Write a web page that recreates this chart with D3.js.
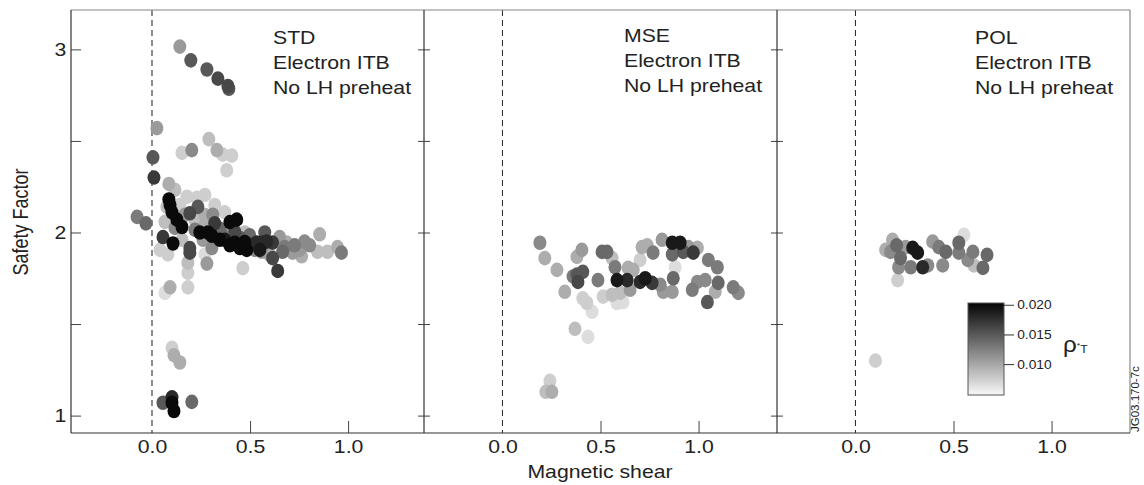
<!DOCTYPE html>
<html>
<head>
<meta charset="utf-8">
<script src="https://cdn.jsdelivr.net/npm/d3@7"></script>
<style>
body { margin: 0; background: #fff; }
svg { font-family: "Liberation Sans", Arial, sans-serif; }
</style>
</head>
<body>
<div id="chart"></div>
<script>
// STD panel
const stdShear = [0.142,0.198,0.280,0.336,0.387,0.392,0.025,0.005,0.010,0.153,
  0.203,0.290,0.331,0.361,0.407,0.381,-0.076,-0.031,0.086,0.178,
  0.229,0.076,0.270,0.320,0.142,0.234,0.193,0.086,0.092,0.102,
  0.127,0.153,0.056,0.107,0.193,0.244,0.285,0.320,0.397,0.432,
  0.346,0.397,0.463,0.483,0.448,0.498,0.534,0.565,0.585,0.615,
  0.575,0.651,0.666,0.615,0.641,0.727,0.717,0.778,0.804,0.855,
  0.844,0.895,0.946,0.966,0.763,0.463,0.081,0.193,0.183,0.183,
  0.183,0.092,0.066,0.280,0.270,0.102,0.112,0.142,0.056,0.102,
  0.102,0.112,0.203,0.219,0.270,0.371,0.397,0.473,0.305,0.153,
  0.524,0.560,0.687,0.117,0.346,0.448,
  0.117,0.168,0.219,0.270,0.310,0.356,0.422,0.509,0.550,0.473,
  0.422,0.371,0.305,0.260,0.066,0.041,0.753,0.676,0.600];
const stdQ = [3.015,2.94,2.89,2.84,2.80,2.785,2.57,2.41,2.30,2.435,
  2.45,2.51,2.45,2.425,2.42,2.34,2.085,2.05,2.265,2.195,
  2.19,2.14,2.205,2.15,2.15,2.14,2.105,2.18,2.15,2.11,
  2.07,2.03,1.975,1.94,1.915,2.00,2.00,2.05,2.057,2.07,
  1.96,1.93,1.92,1.905,1.915,1.985,1.945,1.945,1.95,1.945,
  2.00,1.975,1.895,1.86,1.79,1.93,1.89,1.95,1.93,1.99,
  1.895,1.895,1.92,1.89,1.87,1.805,1.88,1.89,1.835,1.78,
  1.70,1.70,1.67,1.83,1.88,1.37,1.33,1.29,1.07,1.10,
  1.07,1.025,1.075,2.07,2.095,2.11,2.01,2.00,1.915,1.96,
  1.905,1.895,1.945,2.025,2.02,1.97,
  2.233,2.097,2.015,2.042,2.097,1.987,2.004,1.933,1.905,1.948,
  1.944,1.96,1.982,1.96,2.058,1.905,1.905,1.92,1.878];
const stdRho = [0.0108,0.015,0.015,0.016,0.016,0.015,0.0108,0.015,0.017,0.0075,
  0.0118,0.0085,0.0096,0.0075,0.0075,0.0075,0.0128,0.0139,0.0096,0.0075,
  0.0075,0.0085,0.0075,0.0075,0.0075,0.015,0.016,0.020,0.020,0.020,
  0.020,0.020,0.017,0.020,0.016,0.020,0.020,0.017,0.020,0.020,
  0.020,0.020,0.020,0.020,0.020,0.0139,0.018,0.018,0.018,0.017,
  0.015,0.0108,0.0139,0.016,0.017,0.0128,0.0108,0.0118,0.0118,0.0096,
  0.0085,0.0085,0.0096,0.0128,0.0096,0.0075,0.0075,0.016,0.0085,0.0075,
  0.0075,0.0096,0.0065,0.0108,0.0065,0.0075,0.0096,0.0096,0.015,0.018,
  0.020,0.020,0.0139,0.0085,0.0096,0.0075,0.0108,0.0085,0.0118,0.0085,
  0.0118,0.0108,0.0096,0.0118,0.0139,0.015,
  0.0085,0.0108,0.0128,0.0096,0.0118,0.0139,0.016,0.017,0.019,0.020,
  0.020,0.019,0.020,0.0108,0.0085,0.0075,0.0108,0.0128,0.0096];

// MSE panel
const mseShear = [0.191,0.216,0.278,0.318,0.370,0.436,0.242,0.221,0.252,0.380,
  0.405,0.380,0.410,0.385,0.360,0.410,0.431,0.457,0.487,0.508,
  0.533,0.559,0.574,0.584,0.636,0.641,0.667,0.513,0.559,0.584,
  0.615,0.600,0.651,0.702,0.728,0.763,0.702,0.712,0.738,0.768,
  0.804,0.820,0.866,0.871,0.814,0.866,0.906,0.881,0.866,0.922,
  0.948,0.973,0.994,0.968,0.994,1.034,1.045,1.050,1.096,1.085,
  1.100,1.177,1.203];
const mseQ = [1.944,1.86,1.796,1.676,1.474,1.43,1.19,1.13,1.13,1.867,
  1.905,1.77,1.785,1.73,1.76,1.64,1.615,1.567,1.74,1.894,
  1.894,1.86,1.81,1.74,1.74,1.807,1.796,1.65,1.66,1.615,
  1.62,1.67,1.687,1.73,1.75,1.725,1.85,1.92,1.93,1.89,
  1.715,1.676,1.676,1.75,1.96,1.944,1.944,1.81,1.88,1.894,
  1.92,1.89,1.916,1.687,1.73,1.74,1.62,1.85,1.81,1.676,
  1.725,1.70,1.67];
const mseRho = [0.0118,0.0096,0.0096,0.0096,0.0085,0.0065,0.0075,0.0085,0.0096,0.0096,
  0.0108,0.015,0.015,0.016,0.0128,0.0075,0.0075,0.0065,0.0128,0.0139,
  0.0139,0.0085,0.0128,0.019,0.018,0.0096,0.0096,0.0075,0.0085,0.0065,
  0.0065,0.0085,0.0108,0.018,0.019,0.017,0.0075,0.0096,0.0096,0.0128,
  0.0118,0.0108,0.0108,0.0139,0.0108,0.019,0.019,0.0065,0.0139,0.015,
  0.0108,0.017,0.0096,0.0128,0.0118,0.0118,0.015,0.0128,0.0128,0.0096,
  0.0139,0.0128,0.0118];

// POL panel
const polShear = [0.553,0.189,0.179,0.210,0.230,0.220,0.256,0.292,0.317,0.282,
  0.343,0.369,0.394,0.425,0.461,0.445,0.527,0.527,0.599,0.573,
  0.604,0.650,0.671,0.215,0.102,0.154];
const polQ = [1.987,1.96,1.894,1.93,1.86,1.81,1.92,1.916,1.89,1.81,
  1.81,1.82,1.95,1.92,1.894,1.82,1.944,1.89,1.894,1.85,
  1.82,1.807,1.878,1.74,1.30,1.905];
const polRho = [0.0065,0.0096,0.0118,0.0139,0.0139,0.0118,0.0108,0.019,0.019,0.0128,
  0.018,0.0118,0.0108,0.0128,0.0139,0.0118,0.0139,0.0128,0.0128,0.0118,
  0.0085,0.0139,0.0139,0.0075,0.0075,0.0096];

const panelNames = ["STD", "MSE", "POL"];
const panelNote = ["Electron ITB", "No LH preheat"];
const qTicks = [1, 1.5, 2, 2.5, 3];
const shearTicks = [0, 0.5, 1.0];
const rhoTicks = [0.010, 0.015, 0.020];

const width = 1144, height = 485;
const plotTop = 10, plotBottom = 433;
const sx = 1.18; // horizontal stretch of the original lettering

const panels = [
  {name: panelNames[0], shear: stdShear, q: stdQ, rho: stdRho, left: 71, right: 424, domain: [-0.413, 1.387], tx: 202, ty: 44, dash: "#666", dw: 1.5},
  {name: panelNames[1], shear: mseShear, q: mseQ, rho: mseRho, left: 424, right: 777, domain: [-0.4, 1.4], tx: 200, ty: 42, dash: "#222", dw: 1},
  {name: panelNames[2], shear: polShear, q: polQ, rho: polRho, left: 777, right: 1130, domain: [-0.4, 1.4], tx: 198, ty: 43.5, dash: "#222", dw: 1}
];

const yScale = d3.scaleLinear().domain([0.905, 3.215]).range([plotBottom, plotTop]);
const color = d3.scaleLinear().domain([0.0048, 0.0203]).range(["#f8f8f8", "#050505"]);

let svg = d3.select("#chart").append("svg").
  attr("width", width).
  attr("height", height);

function label(g, x, y, str, size, anchor) {
  g.append("g").
  attr("transform", "translate(" + x + "," + y + ") scale(" + sx + ",1)").
  append("text").
  attr("text-anchor", anchor || "start").
  attr("font-size", size).
  attr("fill", "#222").
  text(str);
}

panels.forEach((p, i) => {
  const xScale = d3.scaleLinear().domain(p.domain).range([p.left, p.right]);
  const g = svg.append("g");

  // zero shear line
  g.append("line").
  attr("x1", xScale(0)).attr("x2", xScale(0)).
  attr("y1", plotTop).attr("y2", plotBottom).
  attr("stroke", p.dash).
  attr("stroke-width", p.dw).
  attr("stroke-dasharray", "6,4");

  const pts = p.shear.map((s, k) => ({s: s, q: p.q[k], r: p.rho[k]})).
  sort((a, b) => a.r - b.r);

  g.selectAll("ellipse").
  data(pts).
  enter().
  append("ellipse").
  attr("cx", d => xScale(d.s)).
  attr("cy", d => yScale(d.q)).
  attr("rx", 6.5).
  attr("ry", 7.3).
  attr("fill", d => color(d.r));

  // x axis
  const xAxis = d3.axisBottom(xScale).
  tickValues(shearTicks).
  tickSize(-12).
  tickPadding(7).
  tickFormat(d3.format(".1f"));
  const ax = g.append("g").
  attr("transform", "translate(0," + plotBottom + ")").
  call(xAxis);
  ax.select(".domain").remove();
  ax.selectAll(".tick line").
  filter(d => d === 0).remove();
  ax.selectAll(".tick line").attr("stroke", "#444");
  ax.selectAll("text").
  attr("font-size", 18).
  attr("font-family", "Liberation Sans, Arial, sans-serif").
  attr("fill", "#222").
  attr("transform", "scale(" + sx + ",1)");

  // panel text
  label(g, p.left + p.tx, p.ty, p.name, 18);
  label(g, p.left + p.tx, p.ty + 25, panelNote[0], 18);
  label(g, p.left + p.tx, p.ty + 50, panelNote[1], 18);

  // ticks on the dividers
  if (i > 0) {
    [d3.axisLeft(yScale), d3.axisRight(yScale)].forEach(a => {
      const t = g.append("g").
      attr("transform", "translate(" + p.left + ",0)").
      call(a.tickValues(qTicks).tickSize(6).tickFormat(""));
      t.select(".domain").remove();
      t.selectAll(".tick line").attr("stroke", "#444");
    });
  }
});

// y axis
const yAxis = d3.axisLeft(yScale).
tickValues(qTicks).
tickSize(-10).
tickPadding(4).
tickFormat(d => Number.isInteger(d) ? d : "");
const ay = svg.append("g").
attr("transform", "translate(71,0)").
call(yAxis);
ay.select(".domain").remove();
ay.selectAll(".tick line").attr("stroke", "#444");
ay.selectAll("text").
attr("font-size", 18).
attr("font-family", "Liberation Sans, Arial, sans-serif").
attr("fill", "#222").
attr("transform", "scale(" + sx + ",1)");

// frame
svg.append("line").attr("x1", 71).attr("x2", 1130).attr("y1", plotTop).attr("y2", plotTop).attr("stroke", "#888").attr("stroke-width", 1.2);
svg.append("line").attr("x1", 1130).attr("x2", 1130).attr("y1", plotTop).attr("y2", plotBottom).attr("stroke", "#888").attr("stroke-width", 1.2);
svg.append("line").attr("x1", 71).attr("x2", 1130).attr("y1", plotBottom).attr("y2", plotBottom).attr("stroke", "#333").attr("stroke-width", 1.2);
[71, 424, 777].forEach(x => {
  svg.append("line").attr("x1", x).attr("x2", x).attr("y1", plotTop).attr("y2", plotBottom).attr("stroke", "#333").attr("stroke-width", 1.2);
});

// axis titles
label(svg, 600, 478, "Magnetic shear", 18, "middle");
svg.append("g").
attr("transform", "translate(28,222) rotate(-90) scale(1," + sx + ")").
append("text").
attr("text-anchor", "middle").
attr("font-size", 18).
attr("fill", "#222").
text("Safety Factor");

// colour bar
const cbX = 968, cbW = 36;
const cbScale = d3.scaleLinear().domain([0.0048, 0.0203]).range([395, 303]);
const grad = svg.append("defs").append("linearGradient").
attr("id", "rhoGrad").
attr("x1", 0).attr("x2", 0).attr("y1", 1).attr("y2", 0);
d3.range(0, 1.0001, 0.1).forEach(t => {
  grad.append("stop").
  attr("offset", t).
  attr("stop-color", color(0.0048 + t * (0.0203 - 0.0048)));
});
svg.append("rect").
attr("x", cbX).attr("y", 303).
attr("width", cbW).attr("height", 92).
attr("fill", "url(#rhoGrad)").
attr("stroke", "#555").
attr("stroke-width", 1);
const cbAxis = svg.append("g").
attr("transform", "translate(" + (cbX + cbW) + ",0)").
call(d3.axisRight(cbScale).tickValues(rhoTicks).tickSize(10).tickPadding(2).tickFormat(d3.format(".3f")));
cbAxis.select(".domain").remove();
cbAxis.selectAll(".tick line").attr("stroke", "#333");
cbAxis.selectAll("text").
attr("font-size", 12.5).
attr("font-family", "Liberation Sans, Arial, sans-serif").
attr("fill", "#222").
attr("transform", "scale(1.1,1)");

const rhoLabel = svg.append("g").
attr("transform", "translate(1063,352) scale(1.1,1)").
append("text").
attr("fill", "#222");
rhoLabel.append("tspan").attr("font-size", 22).text("ρ");
rhoLabel.append("tspan").attr("font-size", 8).attr("dy", -4).text("*");
rhoLabel.append("tspan").attr("font-size", 11).attr("dy", 5).text("T");

// figure code
svg.append("text").
attr("transform", "translate(1139,432) rotate(-90)").
attr("font-size", 11.5).
attr("fill", "#222").
text("JG03.170-7c");
</script>
</body>
</html>
